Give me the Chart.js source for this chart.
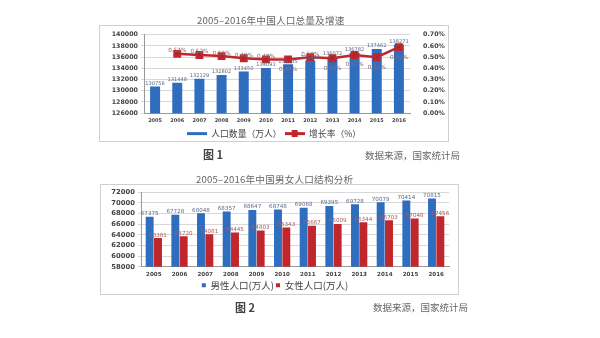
<html lang="zh">
<head>
<meta charset="UTF-8">
<title>2005-2016年中国人口</title>
<script src="https://cdn.jsdelivr.net/npm/chart.js"></script>
<style>
  body, html { margin: 0; background: #fff; font-family: "Noto Sans CJK SC", sans-serif; }
  .page { position: relative; width: 600px; height: 338px; overflow: hidden; filter: blur(0.35px); }
  .box { position: absolute; border: 1px solid #cfcfcf; background: #fff; }
  .box canvas { display: block; }
  .title { position: absolute; font-size: 9.6px; line-height: 12px; color: #666; white-space: nowrap; letter-spacing: 0.2px; }
  .fig { position: absolute; font-size: 11px; line-height: 14px; color: #444; font-weight: bold; }
  .src { position: absolute; font-size: 9.5px; line-height: 12px; color: #666; white-space: nowrap; }
</style>
</head>
<body>
<div class="page">
  <div class="title" style="left:197px; top:14px;">2005–2016年中国人口总量及增速</div>
  <div class="box" style="left:99px; top:25px; width:348px; height:115px;">
    <canvas id="totalChart" width="348" height="115"></canvas>
  </div>
  <div class="fig" style="left:203px; top:147px;">图 1</div>
  <div class="src" style="left:365px; top:149px;">数据来源，国家统计局</div>

  <div class="title" style="left:196px; top:173px;">2005–2016年中国男女人口结构分析</div>
  <div class="box" style="left:100px; top:184px; width:357px; height:109px;">
    <canvas id="genderChart" width="357" height="109"></canvas>
  </div>
  <div class="fig" style="left:235px; top:300px;">图 2</div>
  <div class="src" style="left:373px; top:301px;">数据来源，国家统计局</div>
</div>

<script>
  // data
  var years = ['2005','2006','2007','2008','2009','2010','2011','2012','2013','2014','2015','2016'];
  var totalPop = [130756,131448,132129,132802,133450,134091,134735,135404,136072,136782,137462,138271];
  var growthRate = [null,0.53,0.52,0.51,0.49,0.48,0.48,0.50,0.49,0.52,0.50,0.59];
  var malePop = [67375,67728,68048,68357,68647,68748,69068,69395,69728,70079,70414,70815];
  var femalePop = [63381,63720,64081,64445,64803,65343,65667,66009,66344,66703,67048,67456];

  var blue = '#2f6dbf';
  var red = '#c0272d';

  // value labels above bars / beside points
  var valueLabels = {
    id: 'valueLabels',
    afterDatasetsDraw: function(chart, args, opts) {
      var ctx = chart.ctx;
      ctx.save();
      ctx.textAlign = 'center';
      chart.data.datasets.forEach(function(ds, di) {
        var meta = chart.getDatasetMeta(di);
        ctx.font = (ds.isRate ? opts.size + 0.6 : opts.size) + 'px "DejaVu Sans"';
        meta.data.forEach(function(el, i) {
          var v = ds.data[i];
          if (v === null) return;
          var txt = ds.isRate ? v.toFixed(2) + '%' : String(v);
          var y = el.y - 3;
          if (ds.isRate && ds.below && ds.below[i]) y = el.y + 10;
          ctx.fillStyle = ds.labelColor;
          ctx.fillText(txt, el.x, y);
        });
      });
      ctx.restore();
    }
  };

  // legend swatches: plain line for bars, line with square for the rate
  function swatch(color, withMarker) {
    var c = document.createElement('canvas');
    c.width = 20; c.height = 7;
    var g = c.getContext('2d');
    g.fillStyle = color;
    g.fillRect(0, 2, 20, 3);
    if (withMarker) g.fillRect(7, 0, 6, 7);
    return c;
  }

  var topX = { font: { family: 'DejaVu Sans', size: 5, weight: 'bold' }, color: '#444', padding: 2, autoSkip: false, maxRotation: 0, minRotation: 0 };
  var topY = { family: 'DejaVu Sans', size: 6.3, weight: 'bold' };

  new Chart(document.getElementById('totalChart'), {
    data: {
      labels: years,
      datasets: [
        {
          type: 'line', label: '增长率（%）', data: growthRate, yAxisID: 'yR',
          borderColor: red, backgroundColor: '#b3202a', borderWidth: 2.5,
          pointStyle: 'rect', pointRadius: 3.8, isRate: true, labelColor: '#8a6a70',
          below: [false,false,false,false,false,false,true,false,true,true,true,true]
        },
        {
          type: 'bar', label: '人口数量（万人）', data: totalPop, yAxisID: 'y',
          backgroundColor: blue, barPercentage: 0.5, categoryPercentage: 0.9,
          labelColor: '#5a6a8a'
        }
      ]
    },
    options: {
      responsive: false, animation: false,
      layout: { padding: { top: 5, left: 0, right: 0, bottom: -7 } },
      plugins: {
        legend: {
          position: 'bottom', reverse: true,
          labels: {
            font: { family: 'Noto Sans CJK SC', size: 8.8 }, color: '#444', padding: 3,
            usePointStyle: true, pointStyleWidth: 20,
            generateLabels: function(chart) {
              var items = Chart.defaults.plugins.legend.labels.generateLabels(chart);
              items.forEach(function(it) {
                it.pointStyle = swatch(it.datasetIndex === 0 ? red : blue, it.datasetIndex === 0);
              });
              return items;
            }
          }
        },
        tooltip: { enabled: false },
        valueLabels: { size: 5.1 }
      },
      scales: {
        x: { grid: { display: false, tickLength: 3 }, border: { color: '#999' }, ticks: topX },
        y: {
          position: 'left', min: 126000, max: 140000,
          afterFit: function(s) { s.width = 44; },
          ticks: { stepSize: 2000, autoSkip: false, font: topY, color: '#444', padding: 3, callback: function(v) { return String(v); } },
          grid: { color: '#d8d8d8', tickLength: 3 }, border: { color: '#999' }
        },
        yR: {
          position: 'right', min: 0, max: 0.7,
          afterFit: function(s) { s.width = 38; },
          ticks: { stepSize: 0.1, autoSkip: false, font: topY, color: '#444', padding: 5, callback: function(v) { return v.toFixed(2) + '%'; } },
          grid: { display: false }, border: { display: false }
        }
      }
    },
    plugins: [valueLabels]
  });

  var botX = { font: { family: 'DejaVu Sans', size: 5.6, weight: 'bold' }, color: '#444', padding: 1, autoSkip: false, maxRotation: 0, minRotation: 0 };
  var botY = { family: 'DejaVu Sans', size: 6.8, weight: 'bold' };

  new Chart(document.getElementById('genderChart'), {
    type: 'bar',
    data: {
      labels: years,
      datasets: [
        { label: '男性人口(万人)', data: malePop, backgroundColor: blue, labelColor: '#5a6a8a' },
        { label: '女性人口(万人)', data: femalePop, backgroundColor: red, labelColor: '#b05a5a' }
      ]
    },
    options: {
      responsive: false, animation: false,
      datasets: { bar: { barPercentage: 0.95, categoryPercentage: 0.65 } },
      layout: { padding: { top: 6, left: 0, right: 9, bottom: -6 } },
      plugins: {
        legend: {
          position: 'bottom',
          labels: { font: { family: 'Noto Sans CJK SC', size: 9.5 }, color: '#444', boxWidth: 4, boxHeight: 4, padding: 2 }
        },
        tooltip: { enabled: false },
        valueLabels: { size: 5.6 }
      },
      scales: {
        x: { grid: { display: false, tickLength: 3 }, border: { color: '#999' }, ticks: botX },
        y: {
          min: 58000, max: 72000,
          afterFit: function(s) { s.width = 40; },
          ticks: { stepSize: 2000, autoSkip: false, font: botY, color: '#444', padding: 3, callback: function(v) { return String(v); } },
          grid: { color: '#d8d8d8', tickLength: 3 }, border: { color: '#999' }
        }
      }
    },
    plugins: [valueLabels]
  });
</script>
</body>
</html>
